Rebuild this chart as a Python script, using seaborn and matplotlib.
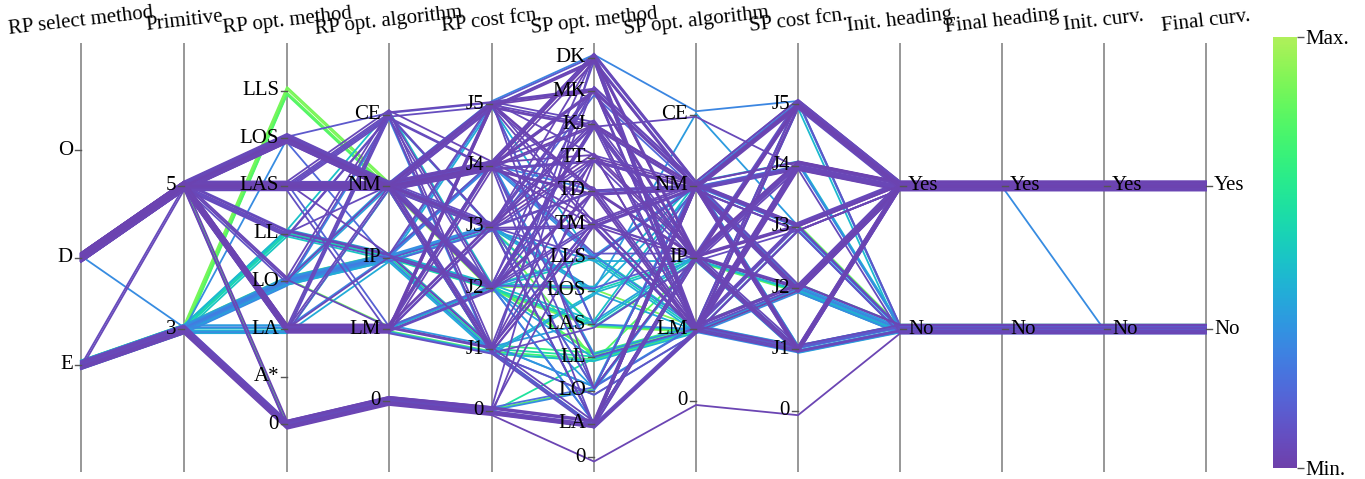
import numpy as np
import pandas as pd
import matplotlib
matplotlib.use("Agg")
import matplotlib.pyplot as plt
import seaborn as sns
from matplotlib.colors import ListedColormap, Normalize
from matplotlib.cm import ScalarMappable

# ---------------- data ----------------
dimensions = ["RP select method", "Primitive", "RP opt. method", "RP opt. algorithm",
              "RP cost fcn.", "SP opt. method", "SP opt. algorithm", "SP cost fcn.",
              "Init. heading", "Final heading", "Init. curv.", "Final curv."]

cat_rp_select = ["O", "D", "E"]
cat_primitive = ["5", "3"]
cat_rp_method = ["LLS", "LOS", "LAS", "LL", "LO", "LA", "A*", "0"]
cat_rp_alg = ["CE", "NM", "IP", "LM", "0"]
cat_rp_cost = ["J5", "J4", "J3", "J2", "J1", "0"]
cat_sp_method = ["DK", "MK", "KJ", "TT", "TD", "TM", "LLS", "LOS", "LAS", "LL", "LO", "LA", "0"]
cat_sp_alg = ["CE", "NM", "IP", "LM", "0"]
cat_sp_cost = ["J5", "J4", "J3", "J2", "J1", "0"]
cat_yes_no = ["Yes", "No"]

colorbar_labels = ["Min.", "Max."]

# each run: RP select, primitive, RP method, RP alg, RP cost, SP method, SP alg, SP cost,
#           init heading, final heading, init curv, final curv, normalised score
runs_d5 = [
    "D 5 LOS NM J4 DK NM J5 Y Y Y Y 0.05", "D 5 LOS NM J4 MK IP J4 Y Y Y Y 0.04",
    "D 5 LOS NM J5 KJ LM J3 Y Y Y Y 0.06", "D 5 LOS NM J3 TT NM J2 Y Y Y Y 0.08",
    "D 5 LOS NM J2 TD IP J1 Y Y Y Y 0.03", "D 5 LOS NM J1 TM LM J5 N N N N 0.10",
    "D 5 LOS NM J4 LA NM J4 Y Y Y Y 0.07", "D 5 LOS CE J5 DK LM J1 Y Y Y Y 0.12",
    "D 5 LOS IP J3 MK NM J3 N N N N 0.18", "D 5 LAS NM J4 KJ NM J5 Y Y Y Y 0.02",
    "D 5 LAS NM J4 TT LM J4 Y Y Y Y 0.03", "D 5 LAS NM J5 TD NM J1 Y Y Y Y 0.05",
    "D 5 LAS NM J3 DK IP J2 Y Y Y Y 0.04", "D 5 LAS NM J2 MK LM J3 Y Y Y Y 0.06",
    "D 5 LAS NM J1 TM NM J2 Y Y Y Y 0.03", "D 5 LAS NM J4 LO IP J5 Y Y Y Y 0.09",
    "D 5 LAS NM J5 KJ IP J4 N N N N 0.05", "D 5 LAS NM J3 TT NM J1 Y Y Y Y 0.02",
    "D 5 LAS NM J4 TD LM J2 Y Y Y Y 0.04", "D 5 LAS CE J5 DK NM J4 Y Y Y Y 0.07",
    "D 5 LAS CE J2 TM IP J3 Y Y Y Y 0.06", "D 5 LAS LM J1 LA LM J5 Y Y Y Y 0.08",
    "D 5 LL IP J3 TD NM J4 Y Y Y Y 0.10", "D 5 LL IP J5 MK LM J2 Y Y Y Y 0.05",
    "D 5 LL CE J4 TT IP J1 Y Y Y Y 0.07", "D 5 LL NM J2 KJ NM J3 N N N N 0.06",
    "D 5 LO CE J4 DK LM J4 Y Y Y Y 0.04", "D 5 LO CE J1 LA NM J5 Y Y Y Y 0.09",
    "D 5 LO LM J5 TM IP J2 Y Y Y Y 0.05", "D 5 LA LM J4 DK NM J3 Y Y Y Y 0.03",
    "D 5 LA LM J5 MK IP J5 Y Y Y Y 0.02", "D 5 LA LM J3 KJ LM J1 Y Y Y Y 0.04",
    "D 5 LA LM J2 TT NM J4 Y Y Y Y 0.06", "D 5 LA LM J1 TD IP J3 Y Y Y Y 0.05",
    "D 5 LA LM J4 TM LM J2 N N N N 0.03", "D 5 LA CE J3 LA NM J1 Y Y Y Y 0.07",
    "D 5 LA CE J5 LO IP J4 Y Y Y Y 0.05", "D 5 LA NM J1 DK LM J5 Y Y Y Y 0.08",
    "D 5 LA IP J2 KJ NM J2 Y Y Y Y 0.04", "D 5 0 0 0 LA NM J4 Y Y Y Y 0.03",
    "D 5 0 0 0 LA LM J1 N N N N 0.05", "D 5 0 0 0 LO IP J3 Y Y Y Y 0.82",
    "D 5 LAS NM J5 DK NM J2 Y Y Y Y 0.04", "D 5 LAS NM J4 MK NM J1 Y Y Y Y 0.03",
    "D 5 LOS NM J5 TT LM J5 Y Y Y Y 0.05", "D 5 LOS NM J3 TM NM J4 Y Y Y Y 0.06",
    "D 5 LA LM J5 TD NM J3 Y Y Y Y 0.04", "D 5 LA LM J4 KJ IP J1 N N N N 0.05",
    "D 5 LAS NM J2 TD LM J5 Y Y Y Y 0.03", "D 5 LAS NM J3 LO NM J1 N N N N 0.12",
    "D 5 LOS NM J1 LAS IP J3 Y Y Y Y 0.07", "D 5 LA LM J3 LLS NM J5 Y Y Y Y 0.08",
    "D 5 LAS NM J5 DK CE J5 Y Y Y Y 0.28", "D 5 LOS NM J4 KJ CE J4 Y Y Y Y 0.05",
    "D 5 LOS NM J5 MK NM J3 Y Y Y Y 0.04", "D 5 LOS NM J4 TD LM J4 Y Y Y Y 0.03",
    "D 5 LOS NM J3 KJ IP J5 Y Y Y Y 0.05", "D 5 LOS NM J2 DK NM J1 Y Y Y Y 0.06",
    "D 5 LAS NM J5 TM LM J4 Y Y Y Y 0.04", "D 5 LAS NM J4 DK IP J3 Y Y Y Y 0.02",
    "D 5 LAS NM J3 MK NM J2 N N N N 0.07", "D 5 LAS NM J2 KJ LM J1 Y Y Y Y 0.05",
    "D 5 LAS NM J1 TT IP J5 Y Y Y Y 0.03", "D 5 LAS CE J4 TD NM J2 Y Y Y Y 0.06",
    "D 5 LAS CE J3 LA LM J4 Y Y Y Y 0.08", "D 5 LAS IP J1 TM NM J3 Y Y Y Y 0.04",
    "D 5 LA LM J5 DK LM J2 Y Y Y Y 0.03", "D 5 LA LM J4 MK NM J5 Y Y Y Y 0.05",
    "D 5 LA LM J3 TT IP J4 Y Y Y Y 0.02", "D 5 LA LM J2 TM NM J1 N N N N 0.06",
    "D 5 LA LM J1 LA IP J3 Y Y Y Y 0.04", "D 5 LA CE J2 KJ NM J4 Y Y Y Y 0.07",
    "D 5 LA NM J3 TD LM J1 Y Y Y Y 0.05", "D 5 LL IP J4 DK NM J2 Y Y Y Y 0.09",
    "D 5 LL CE J1 TM LM J4 Y Y Y Y 0.06", "D 5 LO NM J3 MK IP J1 Y Y Y Y 0.05",
    "D 5 LOS NM J1 LO LM J3 N N N N 0.10", "D 5 LAS NM J5 LAS NM J5 Y Y Y Y 0.12",
    "D 5 LAS LM J2 LOS IP J4 Y Y Y Y 0.15", "D 5 0 0 0 TT NM J1 Y Y Y Y 0.04",
    "D 5 LOS NM J4 LL LM J2 Y Y Y Y 0.09", "D 5 LAS NM J4 LLS IP J5 Y Y Y Y 0.10",
    "D 5 LAS NM J4 TM IP J1 Y Y Y Y 0.03", "D 5 LAS NM J5 MK LM J4 Y Y Y Y 0.04",
    "D 5 LOS NM J4 TT NM J3 Y Y Y Y 0.05", "D 5 LOS NM J5 TD IP J2 Y Y Y Y 0.02",
    "D 5 LA LM J4 DK IP J4 Y Y Y Y 0.06", "D 5 LA LM J5 KJ NM J2 Y Y Y Y 0.03",
    "D 5 LAS NM J4 DK LM J3 N N N N 0.08", "D 5 LAS CE J1 MK NM J5 Y Y Y Y 0.05",
    "D 5 LA LM J3 TM LM J4 Y Y Y Y 0.04", "D 5 LL IP J2 TT NM J1 Y Y Y Y 0.06",
    "D 5 LOS NM J4 TD NM J5 Y Y Y Y 0.03", "D 5 LAS NM J3 KJ IP J4 Y Y Y Y 0.04",
]

runs_e3 = [
    "E 3 LLS NM J2 LL LM J1 N N N N 0.88", "E 3 LLS NM J3 LAS LM J2 N N N N 0.84",
    "E 3 LLS NM J2 LOS LM J1 N N N N 0.90", "E 3 LLS NM J1 LL IP J2 N N N N 0.80",
    "E 3 LOS NM J4 LLS NM J3 N N N N 0.30", "E 3 LL IP J2 LLS LM J1 N N N N 0.55",
    "E 3 LL IP J3 LAS IP J2 N N N N 0.50", "E 3 LL IP J1 LL LM J1 Y Y Y Y 0.60",
    "E 3 LL IP J2 LOS NM J4 N N N N 0.45", "E 3 LO IP J1 LA LM J1 N N N N 0.30",
    "E 3 LO IP J2 LO NM J2 N N N N 0.35", "E 3 LO IP J3 LLS IP J1 N N N N 0.40",
    "E 3 LO IP J5 LAS LM J2 N N N N 0.28", "E 3 LO IP J4 LL LM J5 N N N N 0.33",
    "E 3 LO IP J1 LOS IP J2 Y Y Y Y 0.45", "E 3 LO IP J2 LA NM J1 N N N N 0.25",
    "E 3 LO CE J1 LO LM J2 N N N N 0.30", "E 3 LO NM J2 LL LM J1 N N N N 0.38",
    "E 3 LO LM J2 LL LM J3 N N N N 0.85", "E 3 LA LM J1 LA LM J1 N N N N 0.30",
    "E 3 LA LM J2 LAS IP J2 N N N N 0.50", "E 3 LA LM J1 LO NM J1 N N N N 0.35",
    "E 3 LA CE J3 LOS LM J2 N N N N 0.40", "E 3 LA IP J2 LLS LM J4 N N N N 0.28",
    "E 3 LA NM J1 LL LM J5 N N N N 0.45", "E 3 LO IP J3 LA NM J4 Y Y N N 0.30",
    "E 3 LL IP J2 LL LM J3 Y Y Y Y 0.78", "E 3 LLS NM J3 LL LM J4 Y Y Y Y 0.86",
    "E 3 LO IP J3 LOS CE J3 N N N N 0.35", "E 3 LO IP J1 LL LM J2 N N N N 0.70",
    "E 3 LO IP J2 LAS LM J1 N N N N 0.65", "E 3 LO IP J3 LO NM J5 N N N N 0.30",
    "E 3 LO IP J5 LLS LM J3 N N N N 0.42", "E 3 LL IP J3 LOS IP J2 Y Y Y Y 0.55",
    "E 3 LL CE J2 LAS NM J1 N N N N 0.48", "E 3 LA LM J1 LL LM J2 N N N N 0.75",
    "E 3 LA LM J2 LA IP J1 N N N N 0.32", "E 3 LA IP J1 LOS NM J2 N N N N 0.40",
    "E 3 LO IP J2 LLS LM J1 Y Y Y Y 0.52", "E 3 LO NM J1 LAS IP J4 N N N N 0.36",
    "E 3 LLS NM J2 LAS LM J2 N N N N 0.92", "E 3 LO IP J4 TD NM J3 N N N N 0.28",
    "E 3 LO IP J1 LO LM J1 N N N N 0.33",
]

runs_no_rp = [
    "E 3 0 0 0 LA NM J5 Y Y Y Y 0.03", "E 3 0 0 0 LA IP J4 Y Y Y Y 0.05",
    "E 3 0 0 0 LA LM J3 Y Y Y Y 0.04", "E 3 0 0 0 LA NM J2 Y Y Y Y 0.06",
    "E 3 0 0 0 LO LM J1 N N N N 0.20", "E 3 0 0 0 LA IP J1 N N N N 0.08",
    "E 3 0 0 0 TM NM J3 Y Y Y Y 0.05", "E 3 0 0 0 0 0 0 N N N N 0.03",
    "E 3 0 0 0 LL LM J2 Y Y Y Y 0.62", "E 3 0 0 0 LA NM J3 Y Y Y Y 0.04",
    "E 3 0 0 0 LA LM J5 Y Y Y Y 0.05", "E 3 0 0 0 LO IP J2 N N N N 0.30",
    "E 3 0 0 0 DK NM J4 Y Y Y Y 0.06", "E 3 0 0 0 LA IP J5 Y Y Y Y 0.04",
]

runs_mixed = [
    "D 3 LO IP J4 LLS NM J3 Y Y Y Y 0.30", "E 5 LAS NM J4 TT NM J4 Y Y Y Y 0.05",
    "E 5 LA LM J5 KJ IP J5 Y Y Y Y 0.06",
]

# ---------------- layout ----------------
W, H, DPI = 1365, 479, 100
AX_X = [81, 184, 287, 389, 492, 594, 696, 798, 900, 1002, 1104, 1206]
TOP, BOT = 43, 472
axis_cats = [cat_rp_select, cat_primitive, cat_rp_method, cat_rp_alg, cat_rp_cost,
             cat_sp_method, cat_sp_alg, cat_sp_cost, cat_yes_no, cat_yes_no, cat_yes_no, cat_yes_no]
axis_pad = [1, 1, 1, 1, 1, 0.45, 1, 1, 1, 1, 1, 1]
label_right = [False] * 8 + [True] * 4


def cat_positions(cats, pad):
    step = (BOT - TOP) / (len(cats) - 1 + 2 * pad)
    return {c: TOP + (i + pad) * step for i, c in enumerate(cats)}


positions = [cat_positions(c, p) for c, p in zip(axis_cats, axis_pad)]
yn = {"Y": "Yes", "N": "No"}

rows = []
all_runs = runs_d5 + runs_e3 + runs_no_rp + runs_mixed
for rid, run in enumerate(all_runs):
    tok = run.split()
    vals = tok[:8] + [yn[t] for t in tok[8:12]]
    score = float(tok[12])
    jitter = ((rid * 0.618034) % 1.0 - 0.5) * 9.0
    for j, v in enumerate(vals):
        rows.append({"rid": rid, "xpix": AX_X[j], "y": positions[j][v] + jitter,
                     "neg_score": -score})
long_df = pd.DataFrame(rows)


# d3 interpolateCool (cubehelix long from (260,.75,.35) to (80,1.5,.8))
def cool(t):
    h = 260 - 180 * t
    s = 0.75 + 0.75 * t
    l = 0.35 + 0.45 * t
    hr = np.deg2rad(h + 120)
    a = s * l * (1 - l)
    c, sn = np.cos(hr), np.sin(hr)
    r = l + a * (-0.14861 * c + 1.78277 * sn)
    g = l + a * (-0.29227 * c - 0.90649 * sn)
    b = l + a * (1.97294 * c)
    return np.clip(np.stack([r, g, b], axis=-1), 0, 1)


tt = np.linspace(0, 1, 256)
cmap = ListedColormap(cool(tt), name="cool_d3")
cmap_r = cmap.reversed()

plt.rcParams["font.family"] = "serif"
plt.rcParams["font.serif"] = ["Liberation Serif", "DejaVu Serif"]
FS = 15

fig = plt.figure(figsize=(W / DPI, H / DPI), dpi=DPI)
ax = fig.add_axes([0, 0, 1, 1])

# axis lines
for x in AX_X:
    ax.plot([x, x], [TOP, BOT], color="#7a7a7a", lw=1.1, zorder=1, solid_capstyle="butt")

sns.lineplot(data=long_df, x="xpix", y="y", hue="neg_score", units="rid", estimator=None,
             sort=False, palette=cmap_r, hue_norm=(-1, 0), legend=False,
             lw=1.3, ax=ax, zorder=2)

# ticks + labels
for j, x in enumerate(AX_X):
    for c, y in positions[j].items():
        if label_right[j]:
            ax.plot([x, x + 6], [y, y], color="#555555", lw=1, zorder=3)
            ax.text(x + 8, y, c, ha="left", va="center", fontsize=FS, zorder=4)
        else:
            ax.plot([x - 6, x], [y, y], color="#555555", lw=1, zorder=3)
            ax.text(x - 8, y, c, ha="right", va="center", fontsize=FS, zorder=4)
    ax.text(x, 21, dimensions[j], ha="center", va="center", rotation=6.5,
            rotation_mode="anchor", fontsize=FS, zorder=4)

ax.set_xlim(0, W)
ax.set_ylim(H, 0)
ax.set_axis_off()

# colorbar
cax = fig.add_axes([1273 / W, 1 - 468 / H, 24 / W, (468 - 37) / H])
sm = ScalarMappable(norm=Normalize(0, 1), cmap=cmap)
cb = fig.colorbar(sm, cax=cax, ticks=[0, 1])
cb.set_ticklabels(colorbar_labels)
cb.outline.set_visible(False)
cb.ax.tick_params(length=5, width=1, labelsize=FS, pad=1, color="#555555")

fig.savefig("out.png", dpi=DPI)
